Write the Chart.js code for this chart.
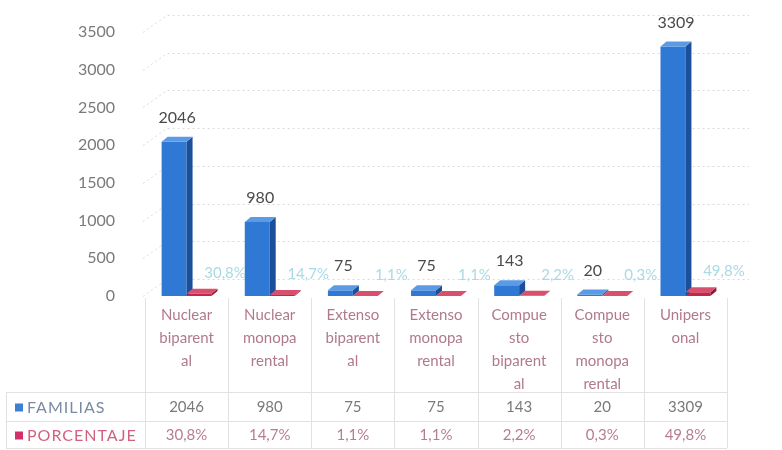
<!DOCTYPE html>
<html>
<head>
<meta charset="UTF-8">
<title>Familias</title>
<style>
  body { margin: 0; background: #fff; }
  #wrap { width: 782px; height: 450px; }
</style>
</head>
<body>
<div id="wrap"><canvas id="grafico" width="782" height="450"></canvas></div>
<script src="https://cdn.jsdelivr.net/npm/chart.js"></script>
<script>
// datos
const categorias = [
  ['Nuclear', 'biparent', 'al'],
  ['Nuclear', 'monopa', 'rental'],
  ['Extenso', 'biparent', 'al'],
  ['Extenso', 'monopa', 'rental'],
  ['Compue', 'sto', 'biparent', 'al'],
  ['Compue', 'sto', 'monopa', 'rental'],
  ['Unipers', 'onal']
];
const familias = [2046, 980, 75, 75, 143, 20, 3309];
const porcentaje = [30.8, 14.7, 1.1, 1.1, 2.2, 0.3, 49.8];
const serieNombres = ['FAMILIAS', 'PORCENTAJE'];
const yMax = 3500;
const yPaso = 500;

const fmtPct = v => v.toFixed(1).replace('.', ',') + '%';

const FUENTE = 'Lato, "Open Sans", sans-serif';
Chart.defaults.font.family = FUENTE;

// pared del fondo (lineas punteadas desplazadas)
const paredFondo = {
  id: 'paredFondo',
  beforeDatasetsDraw(chart) {
    const ctx = chart.ctx;
    const ys = chart.scales.y;
    const area = chart.chartArea;
    ctx.save();
    ctx.strokeStyle = '#dadada';
    ctx.lineWidth = 1;
    ys.ticks.forEach(t => {
      const y = Math.round(ys.getPixelForValue(t.value)) + 0.5;
      ctx.setLineDash([2, 3]);
      ctx.beginPath();
      ctx.moveTo(area.left - 2, y);
      ctx.lineTo(area.left + 22, y - 17);
      ctx.lineTo(area.right + 22, y - 17);
      ctx.stroke();
    });
    ctx.restore();
  }
};

// caras laterales y superiores de las barras
const barras3d = {
  id: 'barras3d',
  afterDatasetsDraw(chart) {
    const ctx = chart.ctx;
    const colores = [
      { lado: '#1b4f9a', arriba: '#5b9be6' },
      { lado: '#8a1a33', arriba: '#d9506e' }
    ];
    const d = 6, dy = 5;
    chart.data.datasets.forEach((ds, di) => {
      const meta = chart.getDatasetMeta(di);
      meta.data.forEach(el => {
        const p = el.getProps(['x', 'y', 'base', 'width'], true);
        const l = p.x - p.width / 2, r = p.x + p.width / 2;
        ctx.fillStyle = colores[di].lado;
        ctx.beginPath();
        ctx.moveTo(r, p.y);
        ctx.lineTo(r + d, p.y - dy);
        ctx.lineTo(r + d, p.base - dy);
        ctx.lineTo(r, p.base);
        ctx.closePath();
        ctx.fill();
        ctx.fillStyle = colores[di].arriba;
        ctx.beginPath();
        ctx.moveTo(l, p.y);
        ctx.lineTo(l + d, p.y - dy);
        ctx.lineTo(r + d, p.y - dy);
        ctx.lineTo(r, p.y);
        ctx.closePath();
        ctx.fill();
      });
    });
  }
};

// etiquetas de valores
const etiquetas = {
  id: 'etiquetas',
  afterDatasetsDraw(chart) {
    const ctx = chart.ctx;
    ctx.save();
    ctx.textAlign = 'center';
    ctx.textBaseline = 'middle';
    chart.getDatasetMeta(0).data.forEach((el, i) => {
      ctx.font = '16px ' + FUENTE;
      ctx.fillStyle = '#4a4a4a';
      ctx.fillText(String(familias[i]), el.x + 3, el.y - 24);
    });
    chart.getDatasetMeta(1).data.forEach((el, i) => {
      ctx.font = '15px ' + FUENTE;
      ctx.fillStyle = '#a9dae4';
      ctx.fillText(fmtPct(porcentaje[i]), el.x + 26, el.y - 21);
    });
    ctx.restore();
  }
};

// tabla de datos debajo del eje
const tabla = {
  id: 'tabla',
  afterDraw(chart) {
    const ctx = chart.ctx;
    const xs = chart.scales.x;
    const area = chart.chartArea;
    const n = categorias.length;
    const anchoCol = (area.right - area.left) / n;
    const filas = [392, 421, 448];
    ctx.save();
    ctx.strokeStyle = '#e2e2e2';
    ctx.lineWidth = 1;
    // lineas verticales
    for (let i = 0; i <= n; i++) {
      const x = Math.round(xs.getPixelForValue(i) - anchoCol / 2) + 0.5;
      ctx.beginPath();
      ctx.moveTo(x, area.bottom + 2);
      ctx.lineTo(x, filas[2]);
      ctx.stroke();
    }
    ctx.beginPath();
    ctx.moveTo(6.5, filas[0]);
    ctx.lineTo(6.5, filas[2]);
    ctx.stroke();
    filas.forEach(y => {
      ctx.beginPath();
      ctx.moveTo(6, y + 0.5);
      ctx.lineTo(area.right, y + 0.5);
      ctx.stroke();
    });

    // leyenda
    const leyCol = ['#3d7fd0', '#d3306a'];
    const leyTxt = ['#7a8aa3', '#d2607f'];
    ctx.textBaseline = 'middle';
    ctx.font = '16px ' + FUENTE;
    serieNombres.forEach((nom, k) => {
      const yc = (filas[k] + filas[k + 1]) / 2 + 1;
      ctx.fillStyle = leyCol[k];
      ctx.fillRect(15, yc - 4, 8, 8);
      ctx.fillStyle = leyTxt[k];
      ctx.textAlign = 'left';
      ctx.letterSpacing = '1px';
      ctx.fillText(nom, 27, yc);
      ctx.letterSpacing = '0px';
    });

    // valores
    ctx.textAlign = 'center';
    ctx.font = '15px ' + FUENTE;
    familias.forEach((v, i) => {
      const x = xs.getPixelForValue(i);
      ctx.fillStyle = '#7a7a7a';
      ctx.fillText(String(v), x, (filas[0] + filas[1]) / 2 + 1);
      ctx.fillStyle = '#b87c90';
      ctx.fillText(fmtPct(porcentaje[i]), x, (filas[1] + filas[2]) / 2 + 1);
    });
    ctx.restore();
  }
};

const data = {
  labels: categorias,
  datasets: [
    {
      label: serieNombres[0],
      data: familias,
      backgroundColor: '#2f78d4',
      categoryPercentage: 0.6,
      barPercentage: 1.0
    },
    {
      label: serieNombres[1],
      data: porcentaje,
      backgroundColor: '#c4264a',
      categoryPercentage: 0.6,
      barPercentage: 1.0
    }
  ]
};

const config = {
  type: 'bar',
  data,
  options: {
    responsive: false,
    animation: false,
    layout: { padding: { top: 32, right: 55, bottom: 0, left: 0 } },
    plugins: {
      legend: { display: false },
      tooltip: { enabled: false }
    },
    scales: {
      x: {
        grid: { display: false },
        border: { display: false },
        ticks: {
          color: '#b07a8c',
          font: { size: 15, lineHeight: 1.53 },
          padding: 0,
          maxRotation: 0,
          autoSkip: false
        },
        afterFit(scale) { scale.height = 154; }
      },
      y: {
        min: 0,
        max: yMax,
        grid: { display: false },
        border: { display: false },
        ticks: {
          stepSize: yPaso,
          color: '#7a7a7a',
          font: { size: 16 },
          padding: 22,
          callback: v => String(v)
        },
        afterFit(scale) { scale.width = 145; }
      }
    }
  },
  plugins: [paredFondo, barras3d, etiquetas, tabla]
};

const grafico = new Chart(document.getElementById('grafico'), config);
</script>
</body>
</html>
